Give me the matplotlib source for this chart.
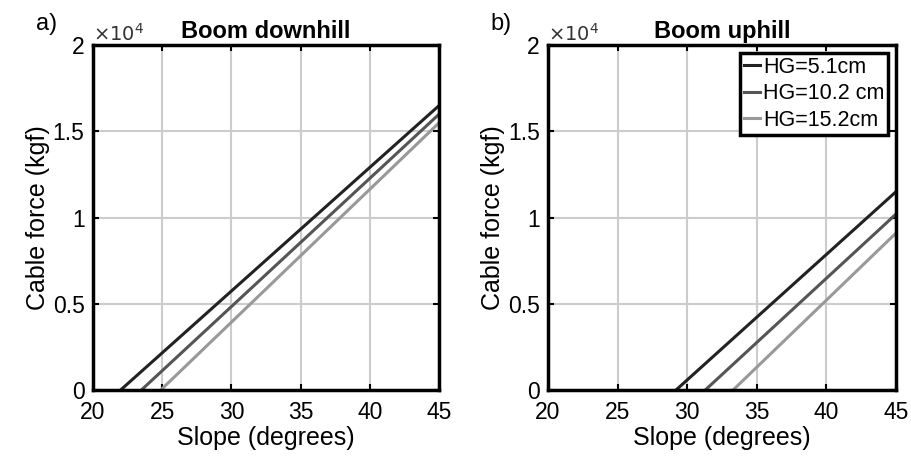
import matplotlib
matplotlib.use("Agg")
from matplotlib import pyplot as plt

plt.rcParams["font.family"] = ["Liberation Sans", "DejaVu Sans"]

labels = ["HG=5.1cm", "HG=10.2 cm", "HG=15.2cm"]
colors = ["#222222", "#555555", "#999999"]

# slope where force starts rising, and force at 45 degrees (kgf)
down_start = [22.0, 23.5, 24.9]
down_end = [16500, 16000, 15500]
up_start = [29.2, 31.3, 33.3]
up_end = [11500, 10200, 9100]

fig = plt.figure(figsize=(9.11, 4.61), dpi=100)
ax_a = fig.add_axes([0.102, 0.154, 0.38, 0.748])
ax_b = fig.add_axes([0.6015, 0.154, 0.382, 0.748])


def panel(ax, starts, ends, title, letter):
    for x0, y1, lab, col in zip(starts, ends, labels, colors):
        ax.plot([x0, 45], [0, y1], color=col, linewidth=2.2, label=lab)
    ax.set_xlim(20, 45)
    ax.set_ylim(0, 20000)
    ax.set_xticks([20, 25, 30, 35, 40, 45])
    ax.set_yticks([0, 5000, 10000, 15000, 20000])
    ax.set_yticklabels(["0", "0.5", "1", "1.5", "2"])
    ax.grid(True, color="#cccccc", linewidth=1.5)
    ax.set_axisbelow(True)
    for s in ax.spines.values():
        s.set_linewidth(2.5)
    ax.tick_params(direction="in", labelsize=16.5, width=1.5, length=4,
                   top=True, right=True)
    ax.tick_params(axis="x", pad=8)
    ax.tick_params(axis="y", pad=6)
    ax.set_xlabel("Slope (degrees)", fontsize=18, labelpad=1)
    ax.set_ylabel("Cable force (kgf)", fontsize=18, labelpad=2)
    ax.set_title(title, fontsize=17, fontweight="bold", pad=5)
    ax.text(0.0, 1.0, r"$\times10^4$", transform=ax.transAxes,
            fontsize=14, ha="left", va="bottom", color="#333333")
    ax.text(-0.165, 1.03, letter, transform=ax.transAxes, fontsize=17,
            ha="left", va="bottom")


panel(ax_a, down_start, down_end, "Boom downhill", "a)")
panel(ax_b, up_start, up_end, "Boom uphill", "b)")

leg = ax_b.legend(loc="upper right", fontsize=15.5, handlelength=0.7,
                  handletextpad=0.15, borderpad=0.2, labelspacing=0.25,
                  fancybox=False, framealpha=1, borderaxespad=0.35)
leg.get_frame().set_edgecolor("black")
leg.get_frame().set_linewidth(2.5)

fig.savefig("out.png", dpi=100)
